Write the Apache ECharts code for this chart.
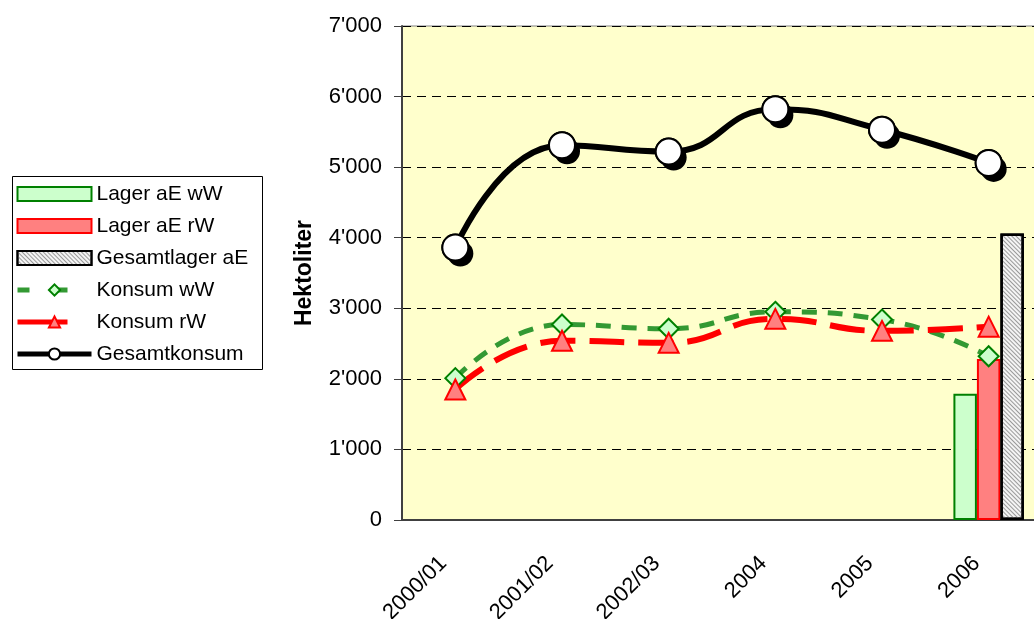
<!DOCTYPE html>
<html>
<head>
<meta charset="utf-8">
<script src="https://cdn.jsdelivr.net/npm/echarts@6/dist/echarts.min.js"></script>
<style>
html,body{margin:0;padding:0;background:#fff;}
#chart{width:1034px;height:619px;}
</style>
</head>
<body>
<div id="chart"></div>
<script>
const categories = ['2000/01', '2001/02', '2002/03', '2004', '2005', '2006'];
const lagerWW = [null, null, null, null, null, 1790];
const lagerRW = [null, null, null, null, null, 2280];
const gesamtLager = [null, null, null, null, null, 4060];
const konsumWW = [2010, 2770, 2710, 2950, 2840, 2320];
const konsumRW = [1850, 2540, 2510, 2850, 2680, 2740];
const gesamtKonsum = [3860, 5310, 5220, 5820, 5530, 5060];
const yTicks = { min: 0, max: 7000, interval: 1000 };

function fmt(v) {
  if (v === 0) return '0';
  const s = String(v);
  return s.length > 3 ? s.slice(0, s.length - 3) + "'" + s.slice(-3) : s;
}

const FONT = 'Liberation Sans, Arial, sans-serif';
const hatch = { symbol: 'rect', symbolSize: 1, dashArrayX: [1, 0], dashArrayY: [1, 1.5], rotation: Math.PI / 4, color: '#9a9a9a' };
const chart = echarts.init(document.getElementById('chart'));
chart.setOption({
  animation: false,
  textStyle: { fontFamily: FONT },
  grid: {
    left: 402, top: 26, width: 640, height: 494, outerBoundsMode: 'none', containLabel: false,
    show: true, backgroundColor: '#ffffcc', borderColor: '#808080', borderWidth: 1
  },
  graphic: [{
    type: 'rect', left: 12, top: 176, z: -1,
    shape: { width: 250, height: 193 },
    style: { fill: '#fff', stroke: '#000', lineWidth: 1 }
  }],
  legend: {
    orient: 'vertical', left: 10, top: 178,
    padding: [5, 5, 5, 5],
    itemWidth: 74, itemHeight: 14, itemGap: 10,
    textStyle: { fontSize: 21, lineHeight: 22, color: '#000', fontFamily: FONT },
    data: [
      { name: 'Lager aE wW', icon: 'rect' },
      { name: 'Lager aE rW', icon: 'rect' },
      { name: 'Gesamtlager aE', icon: 'rect' },
      { name: 'Konsum wW', lineStyle: { width: 5, type: [12, 26] } },
      { name: 'Konsum rW', lineStyle: { width: 5, type: [50, 24] } },
      { name: 'Gesamtkonsum', lineStyle: { width: 5 } }
    ]
  },
  xAxis: {
    type: 'category', data: categories,
    axisLine: { lineStyle: { color: '#404040', width: 2 } },
    axisTick: { length: 8, lineStyle: { color: '#404040', width: 1 } },
    axisLabel: { rotate: 45, fontSize: 22, color: '#000', margin: 28, padding: [0, 17, 0, 0], fontFamily: FONT }
  },
  yAxis: {
    type: 'value', min: yTicks.min, max: yTicks.max, interval: yTicks.interval,
    name: 'Hektoliter', nameLocation: 'middle', nameGap: 86, nameRotate: 90,
    nameTextStyle: { fontSize: 23, fontWeight: 'bold', color: '#000', fontFamily: FONT },
    axisLine: { show: true, lineStyle: { color: '#404040', width: 2 } },
    axisTick: { show: true, length: 8, lineStyle: { color: '#404040', width: 1 } },
    axisLabel: { fontSize: 22, color: '#000', margin: 20, formatter: fmt, fontFamily: FONT },
    splitLine: { show: true, lineStyle: { color: '#000', width: 1, type: [9, 6] } }
  },
  series: [
    {
      name: 'Lager aE wW', type: 'bar', data: lagerWW, barWidth: 23.5, barGap: '0%',
      itemStyle: { color: '#ccffcc', borderColor: '#008000', borderWidth: 2 }
    },
    {
      name: 'Lager aE rW', type: 'bar', data: lagerRW, barWidth: 23.5, barGap: '0%',
      itemStyle: { color: '#ff8080', borderColor: '#ff0000', borderWidth: 2 }
    },
    {
      name: 'Gesamtlager aE', type: 'bar', data: gesamtLager, barWidth: 23.5, barGap: '0%',
      itemStyle: { color: '#f4f4f4', borderColor: '#000', borderWidth: 2.5, decal: hatch }
    },
    {
      name: 'Konsum wW', type: 'line', data: konsumWW, smooth: 0.5, z: 3,
      symbol: 'diamond', symbolSize: 20,
      lineStyle: { color: '#339933', width: 5, type: [15, 11] },
      itemStyle: { color: '#ccffcc', borderColor: '#008000', borderWidth: 2 }
    },
    {
      name: 'Konsum rW', type: 'line', data: konsumRW, smooth: 0.5, z: 3,
      symbol: 'triangle', symbolSize: 20,
      lineStyle: { color: '#ff0000', width: 6, type: [35, 14] },
      itemStyle: { color: '#ff8080', borderColor: '#ff0000', borderWidth: 2 }
    },
    {
      name: 'Gesamtkonsum', type: 'line', data: gesamtKonsum, smooth: 0.5, z: 4,
      symbol: 'circle', symbolSize: 26,
      lineStyle: { color: '#000', width: 6 },
      itemStyle: { color: '#fff', borderColor: '#000', borderWidth: 2 }
    },
    {
      name: 'Gesamtkonsum-Schatten', type: 'scatter', data: gesamtKonsum, z: 5,
      symbol: 'circle', symbolSize: 26, symbolOffset: [5, 6], silent: true,
      itemStyle: { color: '#000', opacity: 1 }
    },
    {
      name: 'Gesamtkonsum-Punkte', type: 'scatter', data: gesamtKonsum, z: 6,
      symbol: 'circle', symbolSize: 26, silent: true,
      itemStyle: { color: '#fff', borderColor: '#000', borderWidth: 2, opacity: 1 }
    }
  ]
});
</script>
</body>
</html>
